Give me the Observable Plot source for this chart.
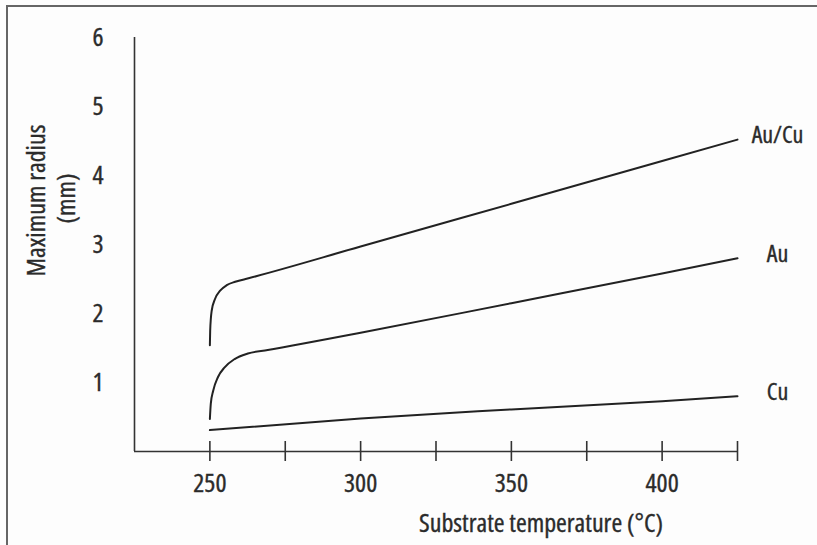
<!DOCTYPE html>
<html><head><meta charset="utf-8">
<script src="https://cdn.jsdelivr.net/npm/d3@7"></script>
<script src="https://cdn.jsdelivr.net/npm/@observablehq/plot@0.6"></script>
<style>
html,body{margin:0;padding:0;background:#fff;}
#wrap{position:relative;width:817px;height:545px;overflow:hidden;background:#fdfdfd;}
#border{position:absolute;left:6px;top:5px;right:-4px;bottom:-4px;border-left:2px solid #666;border-top:2px solid #666;pointer-events:none;}
svg text{font-stretch:87.5%;font-weight:400;stroke:#2b2b2b;stroke-width:0.35px;}
</style></head><body><div id="wrap"><div id="border"></div></div>
<script>
// Series names
const seriesNames = ["Au/Cu", "Au", "Cu"];

// Au/Cu curve (substrate temperature °C, maximum radius mm)
const auCuTemp   = [250.0, 250.1, 250.6, 251.7, 253.4, 255.6, 258.4, 262.8, 300, 350, 400, 425];
const auCuRadius = [1.54, 1.75, 2.04, 2.21, 2.33, 2.41, 2.46, 2.51, 2.97, 3.59, 4.21, 4.52];

// Au curve
const auTemp   = [250.0, 250.3, 251.1, 252.7, 254.9, 258.2, 262.6, 269.2, 300, 350, 400, 425];
const auRadius = [0.47, 0.69, 0.88, 1.08, 1.22, 1.34, 1.42, 1.47, 1.72, 2.15, 2.58, 2.80];

// Cu curve
const cuTemp   = [250, 300, 350, 400, 425];
const cuRadius = [0.31, 0.48, 0.61, 0.73, 0.80];

// Axes
const xDomain = [225, 425];
const yDomain = [0, 6];
const xTicks = [250, 275, 300, 325, 350, 375, 400, 425];
const xTickLabels = [250, 300, 350, 400];
const yTickLabels = [1, 2, 3, 4, 5, 6];
const xTitle = "Substrate temperature (°C)";
const yTitleLines = ["Maximum radius", "(mm)"];

const seriesData = [[auCuTemp, auCuRadius], [auTemp, auRadius], [cuTemp, cuRadius]];
const rows = [];
seriesNames.forEach((name, s) => {
  const [t, r] = seriesData[s];
  t.forEach((v, i) => rows.push({series: name, temp: v, radius: r[i]}));
});

const font = '"Open Sans","DejaVu Sans Condensed",sans-serif';
const ink = "#2b2b2b";

const chart = Plot.plot({
  width: 817, height: 545,
  marginLeft: 134, marginRight: 80, marginTop: 37, marginBottom: 94,
  style: {fontFamily: font, fontSize: "26px", color: ink, background: "transparent", position: "absolute", left: "0px", top: "0px"},
  x: {domain: xDomain},
  y: {domain: yDomain},
  marks: [
    Plot.ruleX([xDomain[0]], {stroke: "#333", strokeWidth: 1.6}),
    Plot.ruleY([yDomain[0]], {stroke: "#333", strokeWidth: 1.6}),
    Plot.ruleX(xTicks, {x: d => d, y1: yDomain[0], y2: yDomain[0], insetTop: -10, insetBottom: -10, stroke: "#333", strokeWidth: 1.6}),
    Plot.axisX(xTickLabels, {tickSize: 0, tickPadding: 22, label: null, tickFormat: d => String(d)}),
    Plot.axisY(yTickLabels, {tickSize: 0, tickPadding: 31, label: null, tickFormat: d => String(d)}),
    Plot.line(rows, {x: "temp", y: "radius", z: "series", curve: "monotone-x", stroke: "#222", strokeWidth: 2}),
    Plot.text(rows, Plot.selectLast({x: "temp", y: "radius", z: "series", text: "series", dx: 40, dy: -4, textAnchor: "middle", fontSize: 24})),
    Plot.text([xTitle], {text: d => d, frameAnchor: "bottom", dx: 105, dy: 72, lineAnchor: "middle", textAnchor: "middle"}),
    Plot.text([yTitleLines[0]], {text: d => d, frameAnchor: "left", rotate: -90, dx: -98, dy: -44, textAnchor: "middle", lineAnchor: "middle"}),
    Plot.text([yTitleLines[1]], {text: d => d, frameAnchor: "left", rotate: -90, dx: -68, dy: -46, textAnchor: "middle", lineAnchor: "middle"})
  ]
});
document.getElementById("wrap").appendChild(chart);
</script>
</body></html>
